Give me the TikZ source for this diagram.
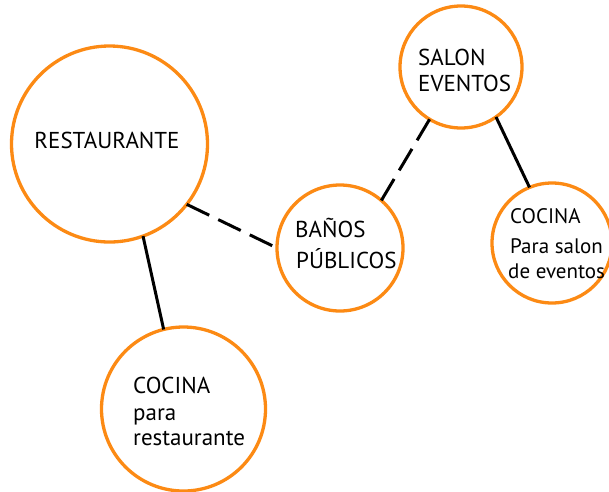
\documentclass[tikz,border=0pt]{standalone}
\usepackage{fontspec}
\setmainfont{PT Sans}
\definecolor{ring}{HTML}{FC8A14}
\begin{document}
\begin{tikzpicture}[x=1pt,y=-1pt,
  bubble/.style={circle,draw=ring,line width=3.3pt,fill=white,inner sep=0pt,outer sep=0pt},
  solidlink/.style={line width=3pt,black},
  dashlink/.style={line width=3pt,black,dash pattern=on 25pt off 10pt},
  lbl/.style={inner sep=0pt,anchor=base west,font=\fontsize{23}{27}\selectfont},
  smalllbl/.style={lbl,font=\fontsize{21}{25}\selectfont}]
\useasboundingbox (0,0) rectangle (609,491);
\node[bubble,minimum size=196pt] (rest) at (109.5,144) {};
\node[bubble,minimum size=164pt] (coc1) at (183.5,409) {};
\node[bubble,minimum size=126pt] (banos) at (340,248) {};
\node[bubble,minimum size=122pt] (salon) at (461,67) {};
\node[bubble,minimum size=120pt] (coc2) at (552,243) {};
\draw[dashlink] (rest.-38) -- (banos.180);
\draw[dashlink] (banos.49) -- (salon.-121);
\draw[solidlink] (salon.-55) -- (coc2.112);
\draw[solidlink] (rest.-70) -- (coc1.104);
\node[lbl,anchor=base] (t1) at (107,148) {RESTAURANTE};
\node[lbl] (t2a) at (133,393) {COCINA};
\node[lbl] (t2b) at (133,420) {para};
\node[lbl] (t2c) at (133,445) {restaurante};
\node[lbl] (t3a) at (295,237) {BAÑOS};
\node[lbl] (t3b) at (296,268) {PÚBLICOS};
\node[lbl] (t4a) at (418,65) {SALON};
\node[lbl] (t4b) at (418,91) {EVENTOS};
\node[smalllbl] (t5a) at (510,223) {COCINA};
\node[smalllbl] (t5b) at (510,253) {Para salon};
\node[smalllbl] (t5c) at (508,278) {de eventos};
\end{tikzpicture}
\end{document}
